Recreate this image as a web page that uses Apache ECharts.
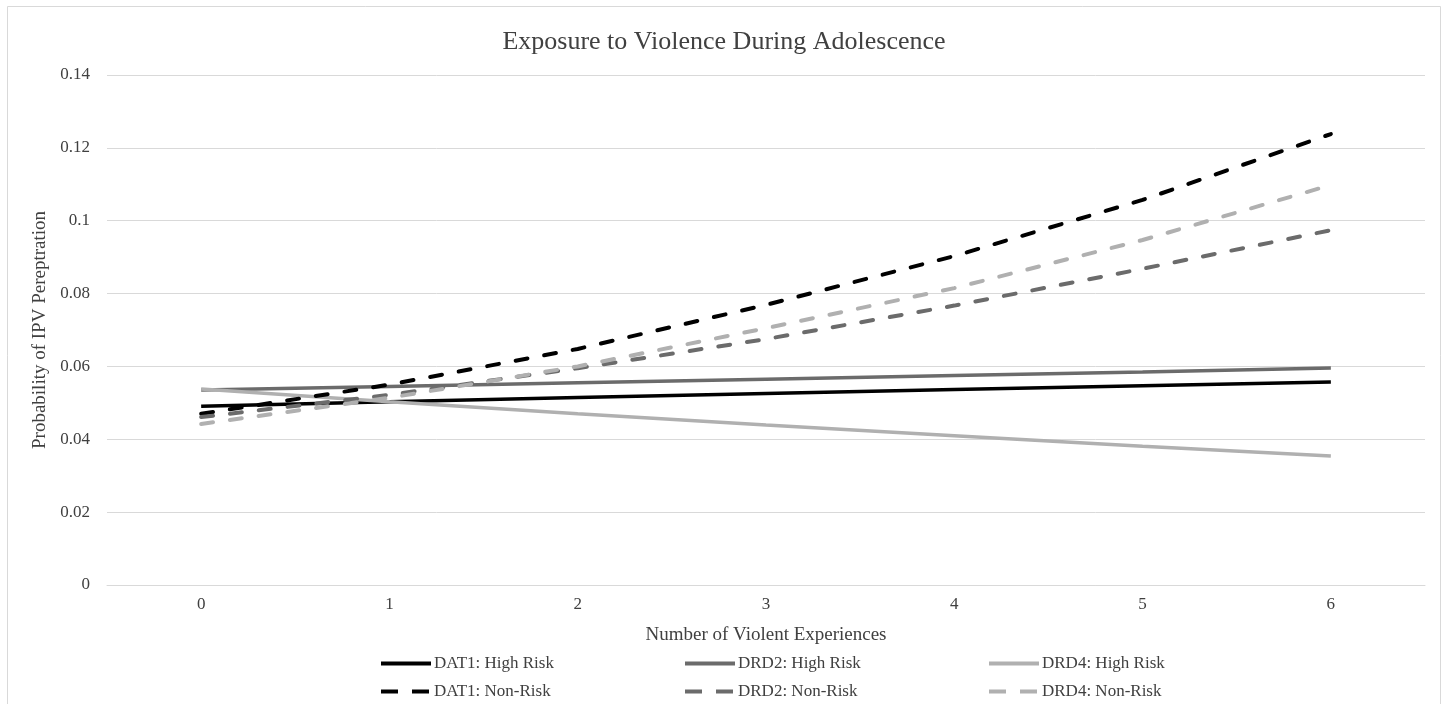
<!DOCTYPE html>
<html><head><meta charset="utf-8">
<script src="https://cdn.jsdelivr.net/npm/echarts@6/dist/echarts.min.js"></script>
<style>html,body{margin:0;padding:0;background:#fff}#c{width:1448px;height:704px}</style>
</head><body><div id="c"></div>
<script>
const categories = ['0','1','2','3','4','5','6'];
const dat1High = [0.0491,0.0503,0.0515,0.0526,0.0537,0.0547,0.0557];
const drd2High = [0.0535,0.0545,0.0555,0.0565,0.0575,0.0585,0.0596];
const drd4High = [0.0538,0.0503,0.0470,0.0439,0.0410,0.0381,0.0354];
const dat1Non = [0.0470,0.0550,0.0648,0.0769,0.0903,0.1057,0.1238];
const drd2Non = [0.0461,0.0522,0.0595,0.0675,0.0767,0.0868,0.0974];
const drd4Non = [0.0442,0.0514,0.0600,0.0705,0.0815,0.0947,0.1098];
const seriesNames = ['DAT1: High Risk','DRD2: High Risk','DRD4: High Risk','DAT1: Non-Risk','DRD2: Non-Risk','DRD4: Non-Risk'];

const font = 'Liberation Serif';
const txt = '#404040';
function mk(name, data, color, dashed){
  return {name, type:'line', data, symbol:'none', smooth:false,
    lineStyle: dashed ? {color, width:4, type:[12,17], cap:'round'} : {color, width:3.5, type:'solid'},
    itemStyle:{color}};
}
const chart = echarts.init(document.getElementById('c'));
const lefts = [379, 683, 987];
const tops = [655, 683];
const legends = [];
seriesNames.forEach((n, i) => {
  const dashed = i >= 3;
  legends.push({orient:'horizontal', left: lefts[i % 3], top: tops[Math.floor(i / 3)],
    padding:0, itemWidth:50, itemHeight:16, itemGap:0, data:[n],
    itemStyle:{opacity:0},
    lineStyle: dashed ? {width:4, type:[17,14], cap:'butt'} : {width:4, type:'solid'},
    textStyle:{fontFamily:font, fontSize:17, color:txt, padding:[0,0,0,-2]}});
});
chart.setOption({
  animation:false,
  backgroundColor:'#fff',
  graphic:[{type:'rect', shape:{x:7.5,y:6.5,width:1433,height:710}, style:{fill:'none', stroke:'#d9d9d9', lineWidth:1}}],
  title:{text:'Exposure to Violence During Adolescence', left:'center', top:24,
    textStyle:{fontFamily:font, fontSize:26, fontWeight:'normal', color:txt}},
  grid:{left:107, right:23, top:75, bottom:119},
  xAxis:{type:'category', data:categories, boundaryGap:true,
    name:'Number of Violent Experiences', nameLocation:'middle', nameGap:41,
    nameTextStyle:{fontFamily:font, fontSize:19, color:txt},
    axisLine:{show:true, lineStyle:{color:'#d9d9d9'}}, axisTick:{show:false},
    axisLabel:{fontFamily:font, fontSize:17, color:txt, margin:11}},
  yAxis:{type:'value', min:0, max:0.14, interval:0.02,
    name:'Probability of IPV Pereptration', nameLocation:'middle', nameGap:57, nameRotate:90,
    nameTextStyle:{fontFamily:font, fontSize:19, color:txt},
    axisLine:{show:false}, axisTick:{show:false},
    axisLabel:{fontFamily:font, fontSize:17, color:txt, margin:17, formatter:v=>String(+v.toFixed(2))},
    splitLine:{lineStyle:{color:'#d9d9d9', width:1}}},
  legend: legends,
  series:[
    mk(seriesNames[0], dat1High, '#000000', false),
    mk(seriesNames[1], drd2High, '#6b6b6b', false),
    mk(seriesNames[2], drd4High, '#b0b0b0', false),
    mk(seriesNames[3], dat1Non, '#000000', true),
    mk(seriesNames[4], drd2Non, '#6b6b6b', true),
    mk(seriesNames[5], drd4Non, '#b0b0b0', true)
  ]
});
</script></body></html>
